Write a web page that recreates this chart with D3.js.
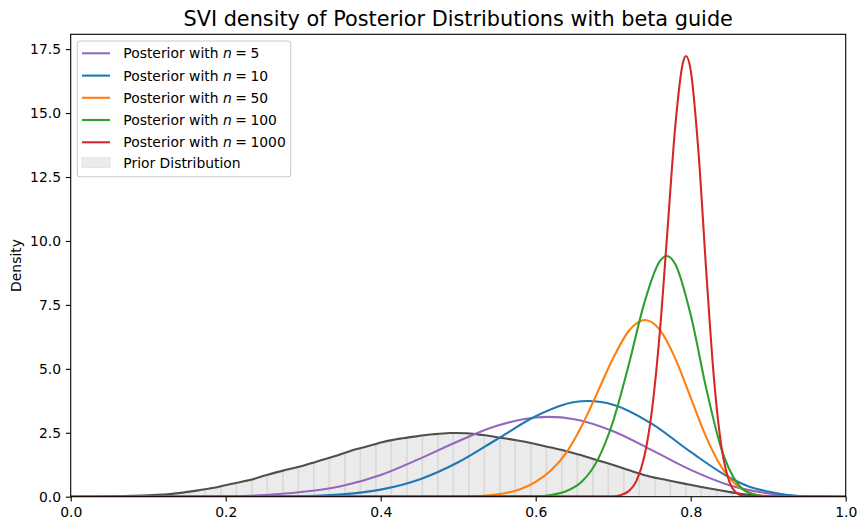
<!DOCTYPE html>
<html><head><meta charset="utf-8">
<script src="https://cdn.jsdelivr.net/npm/d3@7"></script>
<style>
body{margin:0;background:#fff}
svg{display:block}
text{font-family:"DejaVu Sans",sans-serif;fill:#000}
</style>
</head><body>
<svg id="c" width="866" height="530"></svg>
<script>
// ---- data ----
const seriesLabels = ["5", "10", "50", "100", "1000"];
const seriesColors = ["#9467bd", "#1f77b4", "#ff7f0e", "#2ca02c", "#d62728"];

const n5X = [0, 0.10, 0.15, 0.20, 0.25, 0.30, 0.35, 0.40, 0.45, 0.50, 0.55, 0.60, 0.617, 0.65, 0.70, 0.75, 0.80, 0.85, 0.90, 0.95, 1.0];
const n5Y = [0, 0.0001, 0.002, 0.015, 0.065, 0.19, 0.42, 0.85, 1.48, 2.17, 2.77, 3.10, 3.12, 3.03, 2.56, 1.82, 1.05, 0.45, 0.13, 0.01, 0];

const n10X = [0, 0.20, 0.25, 0.30, 0.35, 0.40, 0.45, 0.50, 0.55, 0.60, 0.65, 0.668, 0.70, 0.75, 0.80, 0.85, 0.875, 0.90, 0.925, 0.95, 0.975, 1.0];
const n10Y = [0, 0.0004, 0.004, 0.022, 0.09, 0.276, 0.674, 1.346, 2.246, 3.146, 3.70, 3.74, 3.60, 2.85, 1.75, 0.75, 0.40, 0.20, 0.07, 0.02, 0.003, 0];

const n50X = [0, 0.50, 0.52, 0.54, 0.56, 0.58, 0.60, 0.62, 0.64, 0.66, 0.68, 0.70, 0.72, 0.741, 0.76, 0.78, 0.80, 0.82, 0.84, 0.86, 0.88, 0.90, 0.92, 1.0];
const n50Y = [0, 0.008, 0.022, 0.056, 0.134, 0.294, 0.58, 1.03, 1.74, 2.80, 4.10, 5.42, 6.48, 6.91, 6.53, 5.41, 3.87, 2.33, 1.14, 0.43, 0.12, 0.021, 0.002, 0];

const n100X = [0, 0.60, 0.62, 0.64, 0.66, 0.68, 0.70, 0.72, 0.74, 0.76, 0.769, 0.78, 0.80, 0.82, 0.84, 0.86, 0.88, 0.90, 0.92, 1.0];
const n100Y = [0, 0.019, 0.069, 0.22, 0.60, 1.44, 2.96, 5.15, 7.56, 9.20, 9.41, 9.10, 7.11, 4.24, 1.83, 0.53, 0.093, 0.008, 0.0003, 0];

const n1000X = [0, 0.70, 0.71, 0.72, 0.73, 0.74, 0.75, 0.76, 0.77, 0.78, 0.79, 0.794, 0.80, 0.81, 0.82, 0.83, 0.84, 0.85, 0.86, 0.87, 0.88, 1.0];
const n1000Y = [0, 0.019, 0.068, 0.218, 0.62, 1.55, 3.38, 6.38, 10.40, 14.45, 16.97, 17.23, 16.67, 13.49, 8.85, 4.63, 1.89, 0.58, 0.13, 0.021, 0.002, 0];

const priorX = [0, 0.04, 0.08, 0.10, 0.124, 0.145, 0.167, 0.185, 0.201, 0.231, 0.253, 0.274, 0.296, 0.317, 0.339, 0.360, 0.382, 0.403, 0.425, 0.446, 0.468, 0.489, 0.511, 0.532, 0.554, 0.575, 0.597, 0.618, 0.640, 0.661, 0.683, 0.704, 0.726, 0.747, 0.769, 0.790, 0.812, 0.834, 0.855, 0.872, 0.89, 0.92, 1.0];
const priorY = [0, 0.01, 0.035, 0.055, 0.09, 0.16, 0.26, 0.35, 0.46, 0.65, 0.85, 1.02, 1.18, 1.37, 1.57, 1.78, 1.96, 2.14, 2.27, 2.36, 2.44, 2.49, 2.48, 2.41, 2.31, 2.21, 2.08, 1.93, 1.78, 1.60, 1.40, 1.20, 0.98, 0.79, 0.65, 0.52, 0.39, 0.27, 0.16, 0.08, 0.025, 0.003, 0];

const xTicks = [0, 0.2, 0.4, 0.6, 0.8, 1.0];
const yTicks = [0, 2.5, 5, 7.5, 10, 12.5, 15, 17.5];
const titleText = "SVI density of Posterior Distributions with beta guide";
const yLabel = "Density";
const priorLabel = "Prior Distribution";

// ---- layout ----
const L = 70.7, R = 845.7, T = 34.3, B = 496.7;
const svg = d3.select("#c");
const x = d3.scaleLinear().domain([0, 1]).range([L, R]);
const y = d3.scaleLinear().domain([0, 18.08]).range([B, T]);

const defs = svg.append("defs");
defs.append("clipPath").attr("id", "axclip")
  .append("rect").attr("x", L).attr("y", T).attr("width", R - L).attr("height", B - T);

const zip = (xs, ys) => xs.map((v, i) => [v, ys[i]]);
const prior = zip(priorX, priorY);

const priorCurve = d3.curveCatmullRom.alpha(0.5);
const area = d3.area().x(d => x(d[0])).y0(y(0)).y1(d => y(d[1])).curve(priorCurve);
const priorLine = d3.line().x(d => x(d[0])).y(d => y(d[1])).curve(priorCurve);

defs.append("clipPath").attr("id", "priorclip")
  .append("path").attr("d", area(prior));

const plot = svg.append("g").attr("clip-path", "url(#axclip)");

// prior fill
plot.append("path").attr("d", area(prior)).attr("fill", "#ebebeb");
// vertical hatching inside the prior area
const hatch = plot.append("g").attr("clip-path", "url(#priorclip)");
d3.range(0.0137, 1, 0.02).forEach(v => {
  hatch.append("line").attr("x1", x(v)).attr("x2", x(v)).attr("y1", T).attr("y2", B)
    .attr("stroke", "#d9d9d9").attr("stroke-width", 1.6);
});
plot.append("path").attr("d", priorLine(prior)).attr("fill", "none")
  .attr("stroke", "#4f4f4f").attr("stroke-width", 2.1);

// posteriors
const seriesX = [n5X, n10X, n50X, n100X, n1000X];
const seriesY = [n5Y, n10Y, n50Y, n100Y, n1000Y];
const line = d3.line().x(d => x(d[0])).y(d => y(Math.max(0, d[1]))).curve(d3.curveMonotoneX);
seriesX.forEach((xs, i) => {
  plot.append("path").attr("d", line(zip(xs, seriesY[i]))).attr("fill", "none")
    .attr("stroke", seriesColors[i]).attr("stroke-width", 2.08)
    .attr("stroke-linejoin", "round");
});

// axes
const fs = 13.9;
const xAxis = d3.axisBottom(x).tickValues(xTicks).tickFormat(d3.format(".1f"))
  .tickSize(4.86).tickPadding(4.86);
const yAxis = d3.axisLeft(y).tickValues(yTicks).tickFormat(d3.format(".1f"))
  .tickSize(4.86).tickPadding(4.86);
const gx = svg.append("g").attr("transform", `translate(0,${B})`).call(xAxis);
const gy = svg.append("g").attr("transform", `translate(${L},0)`).call(yAxis);
[gx, gy].forEach(g => {
  g.select(".domain").remove();
  g.selectAll(".tick line").attr("stroke", "#000").attr("stroke-width", 1.1);
  g.selectAll(".tick text").attr("font-size", fs).attr("font-family", "DejaVu Sans").attr("fill", "#000");
});
gx.selectAll(".tick text").attr("dy", "0.76em");

// spines
svg.append("rect").attr("x", L).attr("y", T).attr("width", R - L).attr("height", B - T)
  .attr("fill", "none").attr("stroke", "#000").attr("stroke-width", 1.1);

// title and label
svg.append("text").attr("x", (L + R) / 2).attr("y", 26).attr("text-anchor", "middle")
  .attr("font-size", 20.8).text(titleText);
svg.append("text").attr("transform", `translate(21,${(T + B) / 2}) rotate(-90)`)
  .attr("text-anchor", "middle").attr("font-size", fs).text(yLabel);

// legend
const lg = svg.append("g");
lg.append("rect").attr("x", 77.3).attr("y", 41).attr("width", 213.4).attr("height", 135.7)
  .attr("rx", 2.8).attr("fill", "#fff").attr("fill-opacity", 0.8)
  .attr("stroke", "#cccccc").attr("stroke-width", 1.1);
const rowY = [53.3, 75.6, 97.8, 120.0, 142.3, 162.7];
seriesLabels.forEach((lab, i) => {
  const ry = rowY[i];
  lg.append("line").attr("x1", 82).attr("x2", 110).attr("y1", ry).attr("y2", ry)
    .attr("stroke", seriesColors[i]).attr("stroke-width", 2.08);
  const t = lg.append("text").attr("x", 123.3).attr("y", ry).attr("dy", "0.36em").attr("font-size", fs);
  t.append("tspan").text("Posterior with ");
  t.append("tspan").attr("font-style", "italic").text("n");
  t.append("tspan").text("\u2005=\u2005" + lab);
});
lg.append("rect").attr("x", 82).attr("y", rowY[5] - 4.9).attr("width", 28).attr("height", 9.7)
  .attr("fill", "#ebebeb").attr("stroke", "#e0e0e0").attr("stroke-width", 0.8);
lg.append("text").attr("x", 123.3).attr("y", rowY[5]).attr("dy", "0.36em").attr("font-size", fs).text(priorLabel);
</script>
</body></html>
